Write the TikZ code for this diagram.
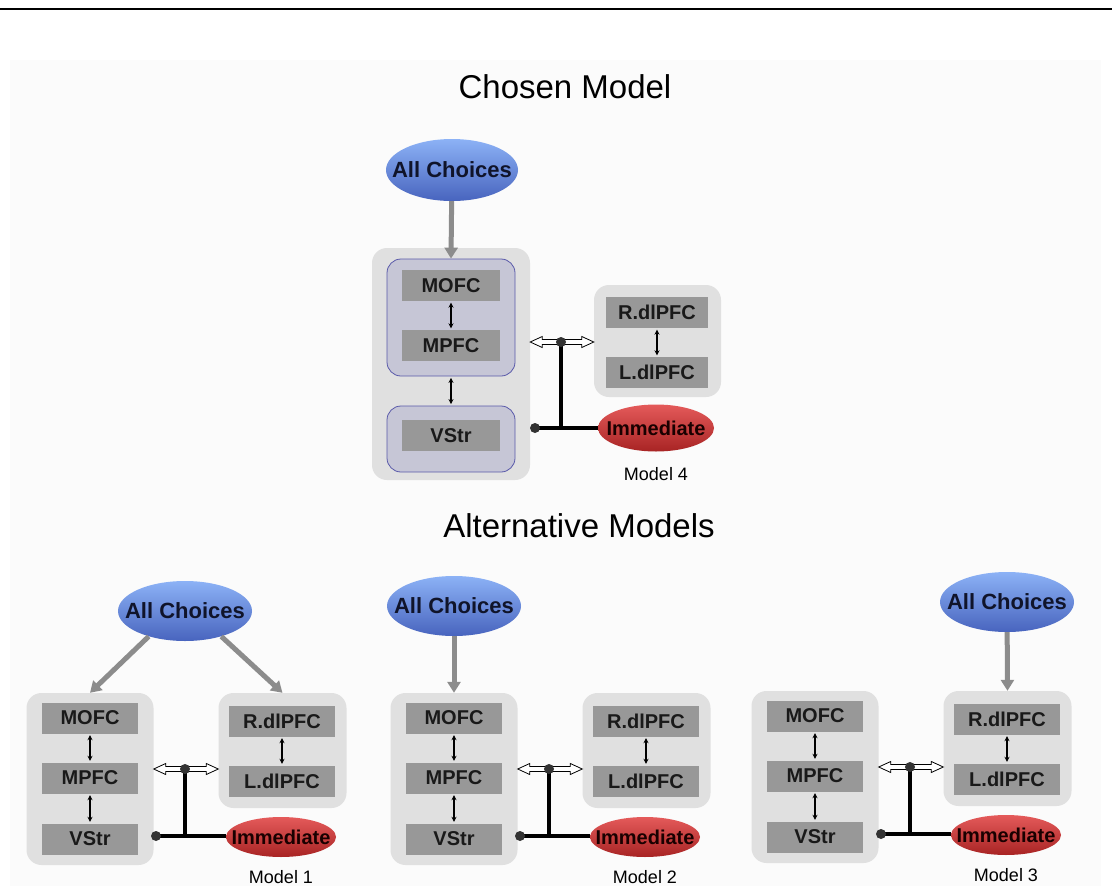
\documentclass[tikz,border=0pt]{standalone}
\usepackage{fontspec}
\setmainfont{Liberation Sans}
\usetikzlibrary{shapes.geometric,arrows.meta,calc}
\definecolor{boxgray}{HTML}{E0E0E0}
\definecolor{innerfill}{HTML}{C6C6D6}
\definecolor{innerdraw}{HTML}{5A5AAA}
\definecolor{regfill}{HTML}{989898}
\definecolor{arrgray}{HTML}{8C8C8C}
\definecolor{bluetop}{HTML}{8CB2F6}
\definecolor{bluebot}{HTML}{4864BE}
\definecolor{redtop}{HTML}{E45A5A}
\definecolor{redbot}{HTML}{A82424}
\definecolor{dotgray}{HTML}{333333}
\definecolor{bgfaint}{HTML}{FBFBFB}
\definecolor{navytext}{HTML}{10142A}

\tikzset{
 outerbox/.style={fill=boxgray, rounded corners=15pt, inner sep=0},
 innerbox/.style={fill=innerfill, draw=innerdraw, line width=0.8pt, rounded corners=14pt, inner sep=0},
 region/.style={fill=regfill, font=\fontsize{20}{24}\selectfont\bfseries, text=black!90, minimum width=96, minimum height=31, inner sep=0},
 choice/.style={ellipse, top color=bluetop, bottom color=bluebot, minimum width=134, minimum height=60, inner sep=0},
 chtext/.style={font=\fontsize{22}{26}\selectfont\bfseries, text=navytext, inner sep=0},
 immed/.style={ellipse, top color=redtop, bottom color=redbot, minimum width=110, minimum height=40, inner sep=0},
 imtext/.style={font=\fontsize{20}{24}\selectfont\bfseries, text=black!90!red, inner sep=0},
 modellab/.style={font=\fontsize{18}{21}\selectfont},
 heading/.style={font=\fontsize{33}{40}\selectfont},
 feed/.style={draw=arrgray, line width=5pt, -{Triangle[length=11pt,width=13pt]}},
 link/.style={line width=1.3pt, {Stealth[length=5pt,width=5pt]}-{Stealth[length=5pt,width=5pt]}, shorten >=1.5pt, shorten <=1.5pt},
 wire/.style={line width=4pt},
 junction/.style={circle, fill=dotgray, minimum size=10, inner sep=0},
 openarr/.style={draw=black, fill=white, line width=0.8pt, line join=miter},
}

% open double arrow between two named coordinates
\newcommand{\openarrow}[2]{%
  \draw[openarr] (#1) -- ++(12,-5.5) -- ++(0,3) -- ($(#2)+(-12,-2.5)$) -- ++(0,-3) -- (#2)
     -- ++(-12,5.5) -- ++(0,-3) -- ($(#1)+(12,2.5)$) -- ++(0,3) -- cycle;}

% common body of an alternative model (local x: left box centre)
\newcommand{\altbody}[2]{%
  \node[outerbox, minimum width=127, minimum height=172] (#1L) at (0,779) {};
  \node[outerbox, minimum width=128, minimum height=115] (#1R) at (192.5,750.5) {};
  \node[region] (#1mofc) at (0,718) {MOFC};
  \node[region] (#1mpfc) at (0,778) {MPFC};
  \node[region] (#1vstr) at (0,839) {VStr};
  \node[region, minimum width=106] (#1rd) at (192,721) {R.dlPFC};
  \node[region, minimum width=106] (#1ld) at (192,781) {L.dlPFC};
  \draw[link] (#1mofc) -- (#1mpfc);
  \draw[link] (#1mpfc) -- (#1vstr);
  \draw[link] (#1rd) -- (#1ld);
  \node[immed, label={[imtext]center:Immediate}] (#1imm) at (191,837) {};
  \node[modellab] (#1lab) at (191,877) {Model #2};
  \coordinate (#1j1) at (95,769);
  \coordinate (#1j2) at (66,836);
  \coordinate (#1a) at (#1L.east |- #1j1);
  \coordinate (#1b) at (#1R.west |- #1j1);
  \openarrow{#1a}{#1b}
  \draw[wire] (#1j1) -- (#1j1 |- #1j2) coordinate (#1t);
  \draw[wire] (#1j2) -- (#1j2 -| #1imm.west);
  \node[junction] (#1d1) at (#1j1) {};
  \node[junction] (#1d2) at (#1j2) {};
}

\begin{document}
\begin{tikzpicture}[x=1pt,y=-1pt]
\useasboundingbox (0,0) rectangle (1112,886);
\fill[white] (0,0) rectangle (1112,886);
\fill[bgfaint] (10,60) rectangle (1101,886);
\draw[line width=2.5pt] (0,9) -- (1112,9);

% headings
\node[heading] (h1) at (565,87) {Chosen Model};
\node[heading] (h2) at (579,526) {Alternative Models};

% ---------- Model 4 (chosen) ----------
\node[outerbox, minimum width=158, minimum height=232] (tL) at (451,364) {};
\node[innerbox, minimum width=128, minimum height=117] (tI1) at (451,317.5) {};
\node[innerbox, minimum width=128, minimum height=66] (tI2) at (451,439) {};
\node[region, minimum width=98] (tmofc) at (451,285.5) {MOFC};
\node[region, minimum width=98] (tmpfc) at (451,345.5) {MPFC};
\node[region, minimum width=98] (tvstr) at (451,435.5) {VStr};
\node[outerbox, minimum width=127, minimum height=112] (tR) at (657.5,341) {};
\node[region, minimum width=102] (trd) at (657,312.5) {R.dlPFC};
\node[region, minimum width=102] (tld) at (657,372.5) {L.dlPFC};
\draw[link] (tmofc) -- (tmpfc);
\draw[link] (tI1) -- (tI2);
\draw[link] (trd) -- (tld);
\node[choice, minimum width=132, minimum height=62, label={[chtext]center:All Choices}] (tac) at (452,170) {};
\draw[feed] (tac) -- (tI1.north);
\node[immed, minimum width=116, minimum height=47, label={[imtext]center:Immediate}] (timm) at (656,428) {};
\node[modellab] (tlab) at (656,474) {Model 4};
\coordinate (tj1) at (561,342);
\coordinate (tj2) at (535,428);
\coordinate (ta) at (tL.east |- tj1);
\coordinate (tb) at (tR.west |- tj1);
\openarrow{ta}{tb}
\draw[wire] (tj1) -- (tj1 |- tj2);
\draw[wire] (tj2) -- (tj2 -| timm.west);
\node[junction] (td1) at (tj1) {};
\node[junction] (td2) at (tj2) {};

% ---------- Model 1 ----------
\begin{scope}[shift={(90,0)}]
\altbody{m1}{1}
\end{scope}
\node[choice, label={[chtext]center:All Choices}] (ac1) at (185,611) {};
\draw[feed] (ac1.-145) -- (m1L.north);
\draw[feed] (ac1.-35) -- (m1R.north);

% ---------- Model 2 ----------
\begin{scope}[shift={(454,0)}]
\altbody{m2}{2}
\end{scope}
\node[choice, label={[chtext]center:All Choices}] (ac2) at (454,606) {};
\draw[feed] (ac2) -- (m2L.north);

% ---------- Model 3 ----------
\begin{scope}[shift={(815,-2)}]
\altbody{m3}{3}
\end{scope}
\node[choice, label={[chtext]center:All Choices}] (ac3) at (1007,602) {};
\draw[feed] (ac3) -- (m3R.north);
\end{tikzpicture}
\end{document}
